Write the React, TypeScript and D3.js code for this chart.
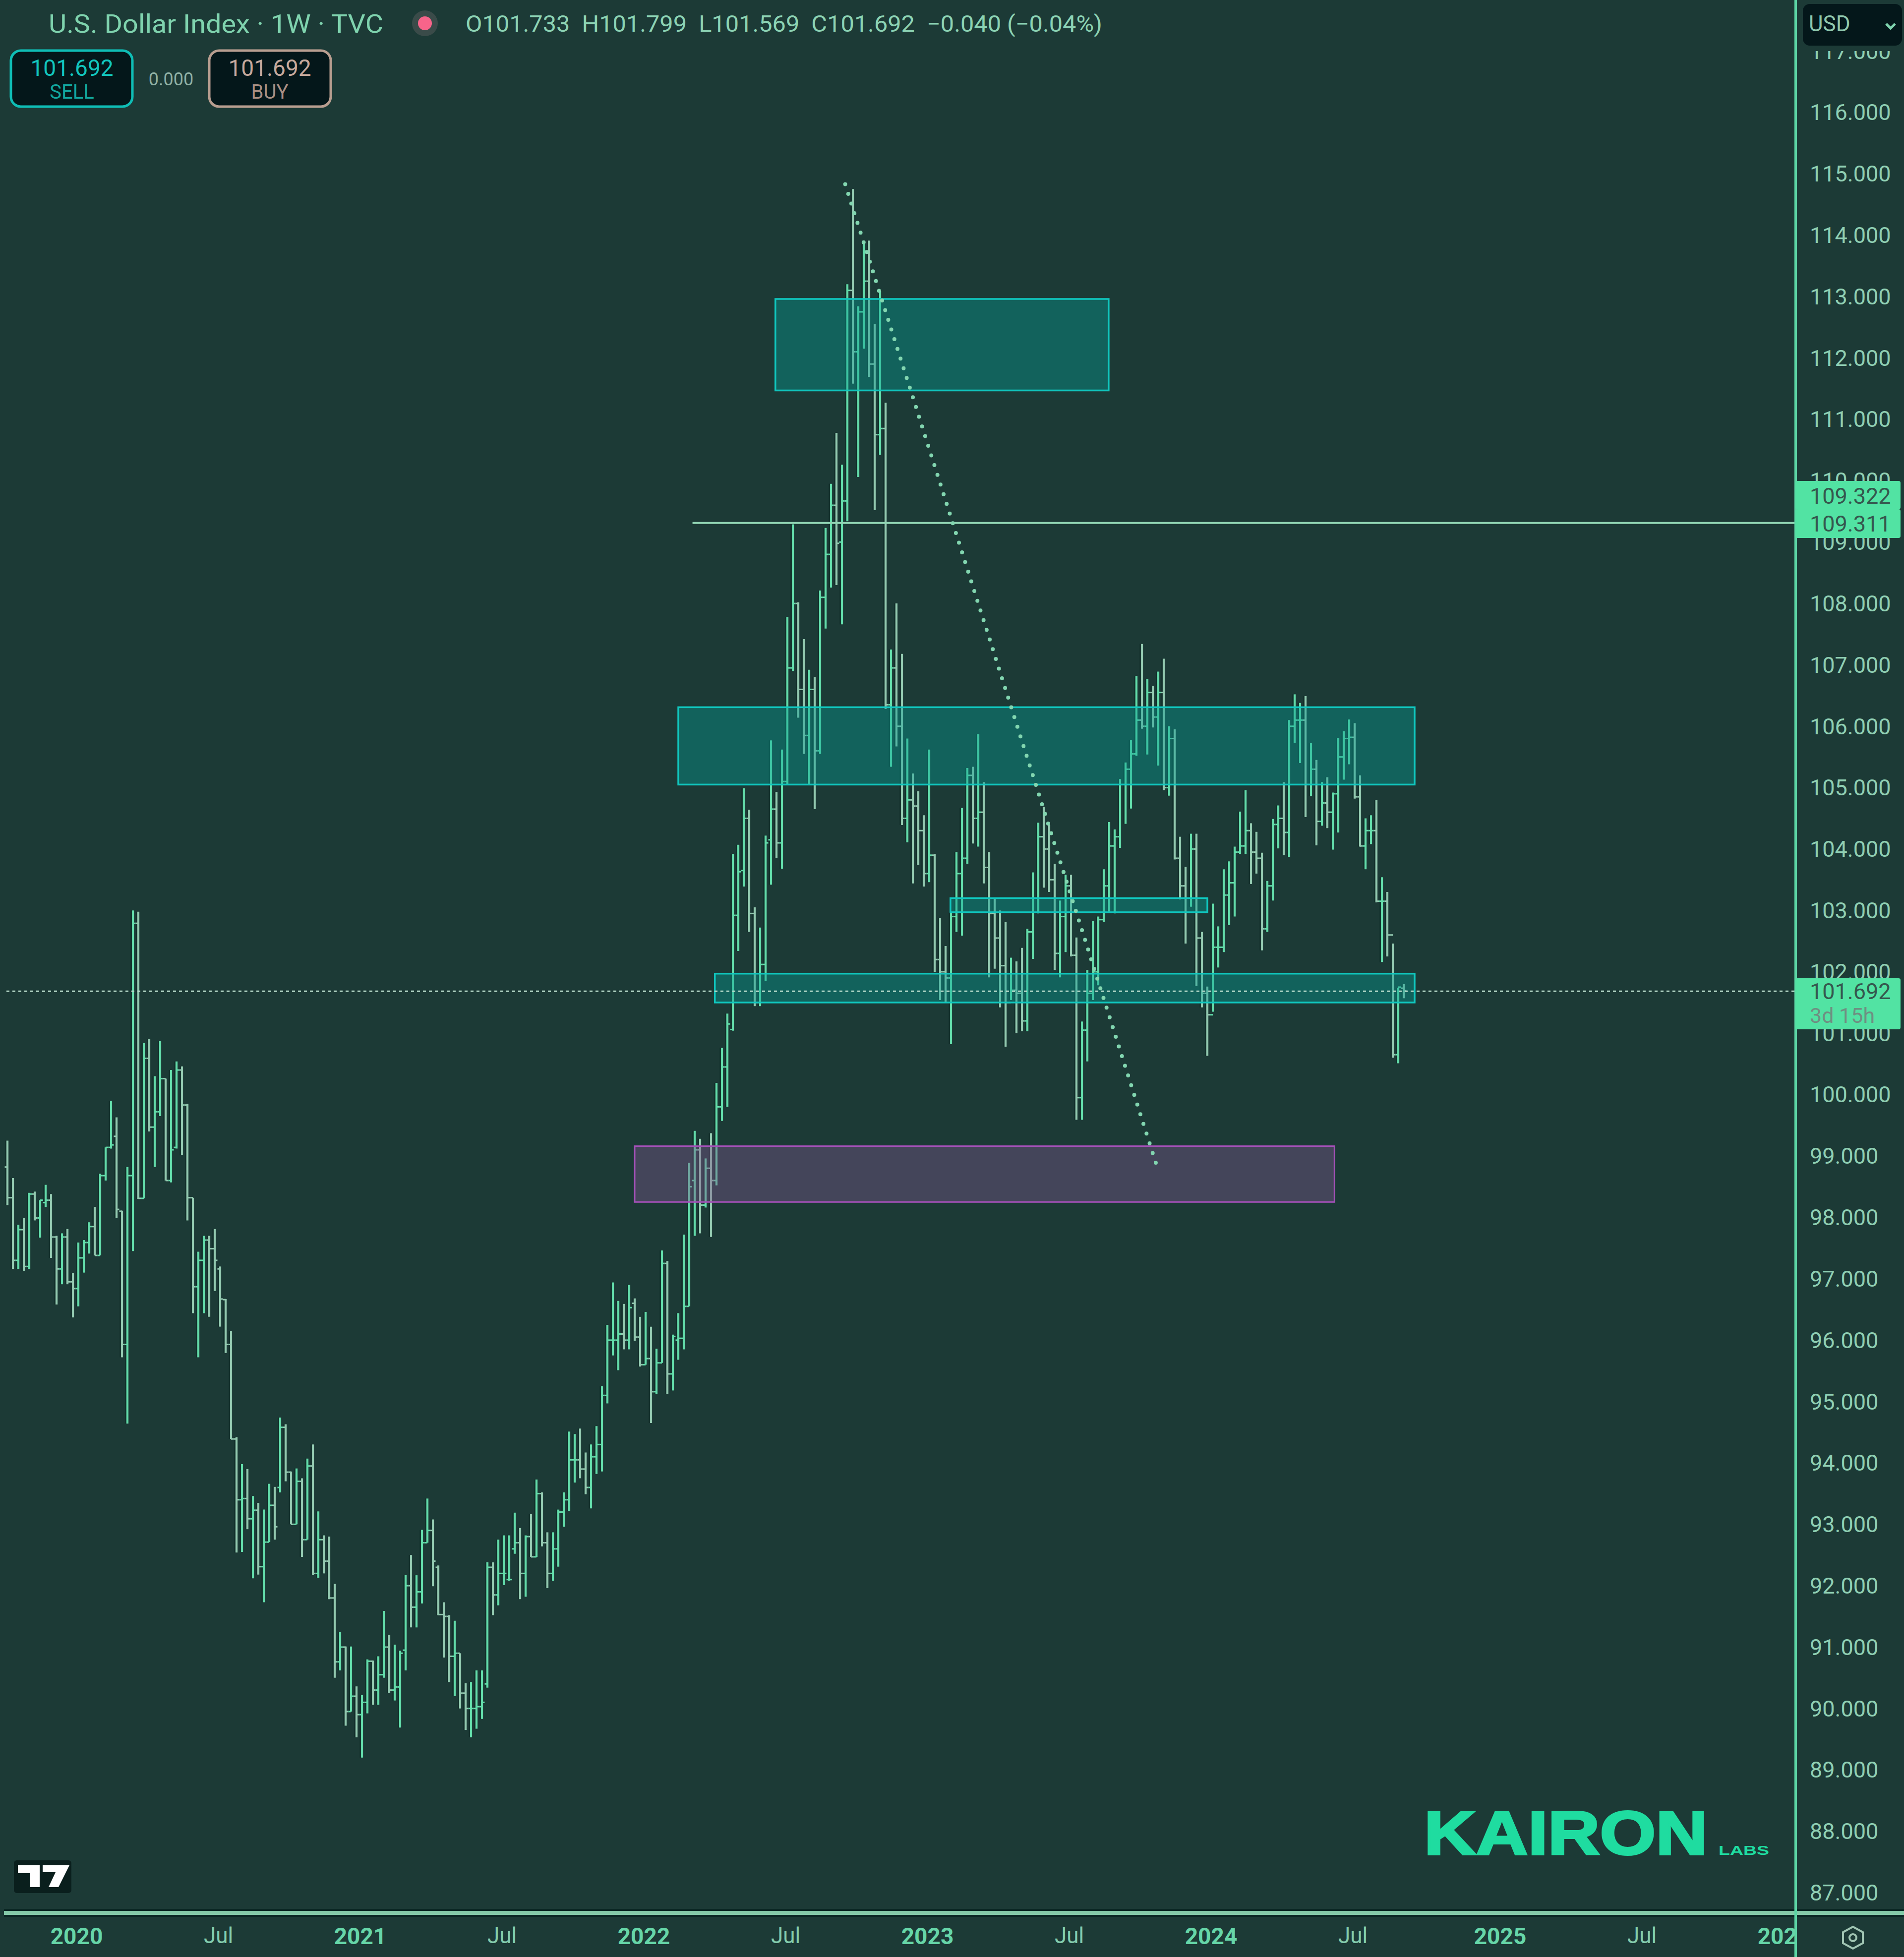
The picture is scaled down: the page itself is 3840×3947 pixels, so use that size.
import React, { useEffect, useRef } from 'react';
import * as d3 from 'd3';

const WIDTH = 3840;
const HEIGHT = 3947;

// weekly bars, first one is the week of 2019-10-07
const firstWeek = Date.UTC(2019, 9, 7);
const WEEK = 7 * 24 * 3600 * 1000;

const opens = [
  98.82,98.32,97.3,97.8,97.2,98.38,97.99,98.24,98.28,97.68,
  97.16,97.68,96.95,96.84,97.34,97.59,97.85,97.38,98.68,99.14,
  99.32,98.1,95.93,98.68,102.79,98.31,100.59,99.47,99.72,100.26,
  98.6,99.14,100.4,99.83,98.32,96.87,97.3,97.63,97.49,97.16,
  96.66,95.93,94.39,93.4,93.42,93.09,93.23,92.31,92.71,93.31,
  93.6,94.58,93.85,93.0,93.7,92.75,93.95,92.2,92.75,92.4,
  91.8,90.76,91.0,89.95,90.2,89.9,90.1,90.77,90.3,90.55,
  91.0,90.3,90.35,90.95,92.0,91.65,91.9,92.7,92.9,92.3,
  91.53,91.5,90.85,90.9,90.25,90.0,90.0,90.03,90.4,92.3,
  91.85,92.2,92.1,92.6,92.7,92.2,92.8,92.47,93.5,92.7,
  92.2,92.6,93.2,93.4,94.05,94.05,93.9,93.6,94.1,94.3,
  95.1,96.0,96.0,96.1,96.0,96.6,96.05,95.6,95.7,95.16,
  95.63,97.25,95.45,96.0,96.03,96.55,98.6,99.1,98.2,98.8,
  98.6,99.8,100.45,101.06,102.92,103.65,104.5,102.95,101.5,102.12,
  104.15,104.65,104.1,105.1,106.95,108.0,106.6,105.85,106.6,105.6,
  108.1,108.8,109.6,109.0,109.67,113.1,112.1,112.75,113.25,111.9,
  110.75,110.85,106.35,106.95,106.0,104.5,104.8,104.7,104.3,103.6,
  103.9,102.2,102.0,101.9,102.9,103.6,103.85,105.2,104.5,104.6,
  103.7,102.95,102.55,102.1,101.5,101.7,101.65,101.2,102.65,103.2,
  104.2,104.0,103.5,102.3,102.9,103.4,102.27,99.95,101.05,101.65,
  102.0,102.85,103.4,104.05,104.2,105.05,105.3,105.55,106.1,106.0,
  106.55,106.15,106.55,105.0,105.8,103.85,103.4,103.2,104.0,102.55,
  101.65,101.3,102.4,102.4,103.25,103.45,103.95,104.05,104.3,103.95,
  103.85,102.7,103.4,104.4,104.5,104.27,106.0,106.1,106.1,105.05,
  105.3,104.45,104.75,104.6,104.9,105.5,105.8,105.82,104.85,104.05,
  104.3,104.3,103.15,103.15,102.6,100.65,101.733,
];

const highs = [
  99.25,98.64,97.88,97.99,98.4,98.42,98.28,98.53,98.38,97.7,
  97.74,97.81,97.09,97.59,97.63,97.92,98.17,98.71,99.14,99.9,
  99.63,98.11,98.82,103.0,102.98,100.84,100.91,100.3,100.87,100.26,
  100.4,100.54,100.46,99.85,98.32,97.44,97.7,97.7,97.81,97.2,
  96.67,96.15,94.42,93.98,93.9,93.46,93.35,93.24,93.66,93.61,
  94.74,94.63,93.86,93.91,93.75,94.07,94.3,93.21,92.82,92.8,
  92.03,91.25,91.01,91.01,90.36,90.22,90.8,90.78,90.85,91.59,
  91.2,91.04,90.94,92.17,92.5,92.17,92.91,93.42,93.08,92.33,
  91.73,91.52,91.43,90.9,90.41,90.43,90.62,90.62,92.38,92.38,
  92.75,92.82,92.82,93.19,92.94,92.82,93.17,93.73,93.52,92.87,
  92.87,93.24,93.52,94.51,94.47,94.56,94.17,94.3,94.6,95.25,
  96.25,96.94,96.64,96.59,96.9,96.68,96.38,96.46,96.22,95.86,
  97.46,97.29,96.09,96.44,97.72,98.89,99.41,99.28,98.96,99.37,
  100.19,100.76,101.32,103.92,104.07,104.99,104.64,103.05,102.72,104.22,
  105.77,104.93,105.62,107.78,109.29,108.02,107.42,106.92,106.8,108.21,
  109.23,109.95,110.78,110.26,113.2,114.75,112.84,113.88,113.91,112.55,
  113.09,111.27,107.25,108.0,107.18,105.8,105.23,104.94,104.55,105.62,
  103.92,102.88,102.42,102.97,103.95,104.67,105.32,105.34,105.87,105.09,
  103.95,103.2,103.0,102.81,102.23,102.17,102.39,102.7,103.62,104.43,
  104.69,104.39,103.76,103.16,103.58,103.58,102.56,101.19,102.03,102.83,
  102.9,103.67,104.44,104.32,105.14,105.41,105.78,106.82,107.34,106.77,
  106.66,106.89,107.1,106.0,105.95,104.2,103.71,104.25,104.25,102.65,
  101.76,103.11,102.74,103.67,103.8,104.04,104.61,104.96,104.42,104.28,
  103.94,103.48,104.49,104.71,105.09,106.1,106.52,106.38,106.49,105.73,
  105.45,105.09,105.17,104.92,105.81,105.92,106.11,106.05,105.2,104.5,
  104.55,104.8,103.54,103.3,102.46,101.74,101.799,
];

const lows = [
  98.2,97.16,97.16,97.13,97.16,97.95,97.67,98.17,97.34,96.58,
  96.91,96.91,96.37,96.55,97.1,97.41,97.38,97.38,98.6,99.12,
  97.99,95.72,94.64,97.45,98.3,98.31,99.4,98.82,99.65,98.6,
  98.57,99.12,99.02,97.95,96.44,95.72,96.44,96.38,96.8,96.22,
  95.79,94.39,92.54,92.55,92.92,92.12,92.18,91.73,92.71,92.75,
  93.52,93.7,93.0,93.0,92.47,92.75,92.17,92.13,92.2,91.78,
  90.5,90.62,89.72,89.95,89.53,89.2,89.92,90.06,90.06,90.5,
  90.25,90.13,89.69,90.62,91.32,91.32,91.71,92.7,91.99,91.52,
  90.83,90.43,90.2,90.0,89.65,89.53,89.67,89.83,90.34,91.52,
  91.68,92.01,92.08,92.52,91.78,91.82,92.47,92.47,92.64,91.96,
  92.08,92.31,92.96,93.22,93.68,93.75,93.49,93.26,93.82,93.86,
  94.97,95.75,95.51,95.85,95.85,95.99,95.57,95.6,94.65,95.12,
  95.63,95.12,95.18,95.68,95.85,96.55,97.7,97.74,98.16,97.68,
  98.52,99.57,99.8,101.04,102.34,103.39,102.65,101.44,101.44,101.85,
  103.42,103.85,103.68,105.06,106.9,106.14,105.55,105.06,104.65,105.55,
  107.59,108.26,108.3,107.66,109.34,111.58,110.06,112.15,111.69,109.52,
  110.42,106.28,105.34,105.67,104.39,104.11,103.44,103.74,103.39,103.46,
  102.0,101.54,101.51,100.82,102.65,102.59,103.76,104.09,104.04,103.44,
  101.91,102.05,101.42,100.78,101.54,101.0,101.03,101.03,102.21,102.95,
  103.37,103.3,102.03,101.91,102.32,102.25,99.59,99.59,100.54,101.54,
  101.78,102.81,102.98,102.95,104.02,104.41,104.66,105.52,105.96,105.54,
  105.98,105.36,104.96,104.87,103.83,103.18,102.46,103.06,101.77,101.42,
  100.63,101.35,102.07,102.32,102.76,102.9,103.92,103.92,103.43,103.6,
  102.35,102.65,103.16,104.01,103.9,103.87,105.73,105.4,104.52,104.86,
  104.06,104.38,104.34,103.99,104.27,105.13,105.38,104.82,104.04,103.67,
  104.08,103.13,102.16,102.25,100.6,100.51,101.569,
];

const closes = [
  98.32,97.3,97.8,97.2,98.38,97.99,98.28,98.28,97.68,97.16,
  97.68,96.95,96.84,97.34,97.59,97.85,97.38,98.68,99.14,99.18,
  98.13,95.93,98.68,102.79,98.31,100.59,99.47,99.72,100.26,98.6,
  99.1,100.4,99.83,98.32,96.87,97.3,97.63,97.49,97.3,96.67,
  95.93,94.39,93.4,93.42,93.09,93.23,92.31,92.71,93.31,92.96,
  94.58,93.85,93.0,93.7,92.75,93.95,92.2,92.75,92.4,91.8,
  90.76,91.0,89.95,90.2,89.9,90.1,90.77,90.3,90.55,91.0,
  90.3,90.35,90.9,92.0,91.65,91.9,92.7,92.9,92.4,91.53,
  91.5,90.85,90.9,90.25,90.0,90.0,90.03,90.1,92.3,91.85,
  92.2,92.2,92.1,92.7,92.2,92.8,92.47,93.5,92.7,92.2,
  92.6,93.2,93.4,94.05,94.05,93.9,93.6,94.1,94.3,95.1,
  96.0,96.0,96.1,96.0,96.53,96.05,95.6,95.7,95.16,95.63,
  97.25,95.45,96.06,96.03,96.55,98.5,99.1,98.2,98.8,98.6,
  99.8,100.45,101.15,102.92,103.63,104.5,102.95,101.5,102.12,104.1,
  104.65,104.1,105.1,106.95,108.0,106.6,105.85,106.6,105.6,108.1,
  108.8,109.6,108.98,109.67,113.1,112.1,112.75,113.25,111.9,110.75,
  110.85,106.35,106.95,106.0,104.5,104.8,104.7,104.3,103.6,103.9,
  102.2,102.0,101.9,102.9,103.6,103.85,105.2,104.5,104.6,103.7,
  102.95,102.55,102.1,101.5,101.7,101.65,101.2,102.65,103.2,104.2,
  104.0,103.5,102.3,102.9,103.4,102.27,99.95,101.05,101.65,102.0,
  102.85,103.4,104.05,104.2,105.05,105.3,105.55,106.1,106.0,106.55,
  106.15,106.55,105.0,105.8,103.85,103.4,103.2,104.0,102.55,101.65,
  101.3,102.4,102.4,103.25,103.45,103.95,104.05,104.3,103.95,103.85,
  102.7,103.4,104.4,104.5,104.27,106.0,106.1,106.1,105.05,105.3,
  104.45,104.75,104.6,104.9,105.5,105.8,105.82,104.85,104.05,104.3,
  104.3,103.15,103.15,102.6,100.65,101.75,101.692,
];

const priceTicks = d3.range(87, 118);
const yearTicks = ['2020-01-06', '2021-01-04', '2022-01-03', '2023-01-02', '2024-01-01', '2025-01-06', '2026-01-05'];
const julyTicks = ['2020-07-06', '2021-07-05', '2022-07-04', '2023-07-03', '2024-07-01', '2025-07-07'];

// drawn boxes: first week, last week, top price, bottom price
const tealZones = [
  [140.8, 201.9, 112.96, 111.47],
  [123, 258, 106.31, 105.05],
  [172.9, 220, 103.2, 102.97],
  [129.7, 258, 101.97, 101.5],
];
const purpleZone = [115, 243.3, 99.16, 98.25];

const levelStartWeek = 125.6;
const levelPrice = 109.311;
const lastPrice = 101.692;
const trendFrom = [153.6, 114.83];
const trendTo = [210.7, 98.87];

const BG = '#1c3a36';
const UP = '#63dcaa';
const DOWN = '#93c9b0';
const FONT = 'Roboto, sans-serif';

const App: React.FC = () => {
  const svgRef = useRef<SVGSVGElement>(null);

  useEffect(() => {
    if (!svgRef.current) return;
    const svg = d3.select(svgRef.current);
    svg.selectAll('*').remove();

    const x = d3.scaleUtc()
      .domain([new Date(firstWeek), new Date(firstWeek + 257 * WEEK)])
      .range([15, 15 + 257 * 11]);
    const y = d3.scaleLinear().domain([116, 87]).range([226.6, 3817.2]);
    const xw = (w: number) => x(new Date(firstWeek + w * WEEK));

    svg.append('rect').attr('width', WIDTH).attr('height', HEIGHT).attr('fill', BG);

    const defs = svg.append('defs');
    defs.append('clipPath').attr('id', 'time-clip')
      .append('rect').attr('x', 0).attr('y', 3866).attr('width', 3620).attr('height', 81);

    // dark halo under the bars, the screenshot has it from sharpening
    svg.append('g').selectAll('line')
      .data(d3.range(opens.length))
      .enter().append('line')
      .attr('x1', (i: number) => xw(i) - 1.5).attr('x2', (i: number) => xw(i) - 1.5)
      .attr('y1', (i: number) => y(highs[i])).attr('y2', (i: number) => y(lows[i]))
      .attr('stroke', '#0f2b27').attr('stroke-width', 6);

    // OHLC bars
    const bars = svg.append('g').selectAll('g')
      .data(d3.range(opens.length))
      .enter().append('g')
      .attr('stroke', (i: number) => (closes[i] >= opens[i] ? UP : DOWN));
    bars.append('line')
      .attr('x1', (i: number) => xw(i)).attr('x2', (i: number) => xw(i))
      .attr('y1', (i: number) => y(highs[i])).attr('y2', (i: number) => y(lows[i]))
      .attr('stroke-width', 4.2);
    bars.append('line')
      .attr('x1', (i: number) => xw(i) - 5.5).attr('x2', (i: number) => xw(i))
      .attr('y1', (i: number) => y(opens[i])).attr('y2', (i: number) => y(opens[i]))
      .attr('stroke-width', 3);
    bars.append('line')
      .attr('x1', (i: number) => xw(i)).attr('x2', (i: number) => xw(i) + 5.5)
      .attr('y1', (i: number) => y(closes[i])).attr('y2', (i: number) => y(closes[i]))
      .attr('stroke-width', 3);

    // zones sit on top of the bars, translucent
    svg.append('g').selectAll('rect')
      .data(tealZones)
      .enter().append('rect')
      .attr('x', (d: number[]) => xw(d[0]))
      .attr('y', (d: number[]) => y(d[2]))
      .attr('width', (d: number[]) => xw(d[1]) - xw(d[0]))
      .attr('height', (d: number[]) => y(d[3]) - y(d[2]))
      .attr('fill', 'rgba(4,160,150,0.4)')
      .attr('stroke', '#10c6be')
      .attr('stroke-width', 3.5);
    svg.append('rect')
      .attr('x', xw(purpleZone[0]))
      .attr('y', y(purpleZone[2]))
      .attr('width', xw(purpleZone[1]) - xw(purpleZone[0]))
      .attr('height', y(purpleZone[3]) - y(purpleZone[2]))
      .attr('fill', 'rgba(130,88,144,0.4)')
      .attr('stroke', '#a250b6')
      .attr('stroke-width', 3);

    // level, last price and trend lines
    svg.append('line')
      .attr('x1', xw(levelStartWeek)).attr('x2', 3623)
      .attr('y1', y(levelPrice)).attr('y2', y(levelPrice))
      .attr('stroke', '#8fd3b2').attr('stroke-width', 4);
    svg.append('line')
      .attr('x1', 13).attr('x2', 3623)
      .attr('y1', y(lastPrice) + 1).attr('y2', y(lastPrice) + 1)
      .attr('stroke', '#b9dccb').attr('stroke-width', 2.8).attr('stroke-dasharray', '6 6');
    svg.append('line')
      .attr('x1', xw(trendFrom[0])).attr('y1', y(trendFrom[1]))
      .attr('x2', xw(trendTo[0])).attr('y2', y(trendTo[1]) + 3)
      .attr('stroke', '#82d6b0').attr('stroke-width', 8)
      .attr('stroke-linecap', 'round').attr('stroke-dasharray', '0 20.5');

    // frame
    svg.append('rect').attr('x', 8).attr('y', 3850).attr('width', WIDTH - 8).attr('height', 16).attr('fill', '#0b2724');
    svg.append('rect').attr('x', 8).attr('y', 3854).attr('width', WIDTH - 8).attr('height', 8).attr('fill', '#84c9a8');
    svg.append('rect').attr('x', 3619).attr('y', 0).attr('width', 5).attr('height', HEIGHT).attr('fill', '#5bd3a3');

    // price axis
    const priceAxis = svg.append('g')
      .attr('transform', 'translate(3625,0)')
      .call(d3.axisRight(y).tickValues(priceTicks).tickFormat(d3.format('.3f')).tickSize(0).tickPadding(25));
    priceAxis.select('.domain').remove();
    priceAxis.selectAll('text')
      .attr('font-family', FONT).attr('font-size', 45).attr('fill', '#8fcfb3').attr('dy', '0.34em');

    // time axis
    const timeG = svg.append('g').attr('clip-path', 'url(#time-clip)');
    const yearAxis = timeG.append('g')
      .attr('transform', 'translate(-4,3888)')
      .call(d3.axisBottom(x).tickValues(yearTicks.map((d) => new Date(d))).tickFormat(d3.utcFormat('%Y')).tickSize(0).tickPadding(0));
    yearAxis.select('.domain').remove();
    yearAxis.selectAll('text')
      .attr('font-family', FONT).attr('font-size', 46).attr('font-weight', 700).attr('fill', '#66d6a8').attr('dy', '0.71em');
    const julyAxis = timeG.append('g')
      .attr('transform', 'translate(-4,3888)')
      .call(d3.axisBottom(x).tickValues(julyTicks.map((d) => new Date(d))).tickFormat(d3.utcFormat('%b')).tickSize(0).tickPadding(0));
    julyAxis.select('.domain').remove();
    julyAxis.selectAll('text')
      .attr('font-family', FONT).attr('font-size', 44).attr('fill', '#84cdae').attr('dy', '0.71em');

    const label = (t: string, lx: number, ly: number, size: number, fill: string, anchor = 'start', weight = 400) =>
      svg.append('text')
        .attr('x', lx).attr('y', ly)
        .attr('font-family', FONT).attr('font-size', size).attr('font-weight', weight)
        .attr('fill', fill).attr('text-anchor', anchor)
        .attr('dominant-baseline', 'central')
        .text(t);

    // price tags on the axis
    const tag = (top: number, h: number) =>
      svg.append('rect').attr('x', 3621).attr('y', top).attr('width', 212).attr('height', h).attr('rx', 4).attr('fill', '#52e3a3');
    tag(970, 57);
    tag(1027, 58);
    tag(1973, 103);
    label('109.322', 3650, 1000, 45, '#35574e');
    label('109.311', 3650, y(levelPrice) + 2, 45, '#35574e');
    label('101.692', 3650, y(lastPrice) + 1, 45, '#35574e');
    label('3d 15h', 3650, 2048, 43, '#6f8f82');

    // header
    label('U.S. Dollar Index · 1W · TVC', 98, 48, 52, '#7fd3ae')
      .attr('textLength', 675).attr('lengthAdjust', 'spacingAndGlyphs');
    svg.append('circle').attr('cx', 857).attr('cy', 47).attr('r', 26).attr('fill', '#3a4b49');
    svg.append('circle').attr('cx', 857).attr('cy', 47).attr('r', 14).attr('fill', '#f7648a');
    label('O101.733  H101.799  L101.569  C101.692  −0.040 (−0.04%)', 939, 48, 46, '#8cd3b4')
      .style('white-space', 'pre')
      .attr('textLength', 1284).attr('lengthAdjust', 'spacingAndGlyphs');

    // sell / buy buttons
    svg.append('rect').attr('x', 22).attr('y', 102).attr('width', 245).attr('height', 113).attr('rx', 20)
      .attr('fill', '#04171a').attr('stroke', '#0fbdb5').attr('stroke-width', 5);
    label('101.692', 145, 137, 46, '#12c6bd', 'middle');
    label('SELL', 145, 185, 40, '#12a69e', 'middle');
    label('0.000', 345, 160, 36, '#8fb0a4', 'middle');
    svg.append('rect').attr('x', 422).attr('y', 102).attr('width', 245).attr('height', 113).attr('rx', 20)
      .attr('fill', '#04171a').attr('stroke', '#b89e90').attr('stroke-width', 5);
    label('101.692', 544, 137, 46, '#c6a99c', 'middle');
    label('BUY', 544, 185, 40, '#a98f83', 'middle');

    // currency box, the strip under it cuts the top of the 117 label
    svg.append('rect').attr('x', 3626).attr('y', 0).attr('width', 214).attr('height', 103).attr('fill', BG);
    svg.append('rect').attr('x', 3636).attr('y', 8).attr('width', 200).attr('height', 84).attr('rx', 14).attr('fill', '#04171a');
    label('USD', 3648, 48, 44, '#8fc8ae');
    svg.append('path').attr('d', 'M3804,48 L3813,57 L3822,48').attr('fill', 'none').attr('stroke', '#7fd3ae').attr('stroke-width', 5);

    // settings icon
    svg.append('path').attr('d', 'M3737,3886 L3757,3897 L3757,3919 L3737,3930 L3717,3919 L3717,3897 Z')
      .attr('fill', 'none').attr('stroke', '#9fc4b2').attr('stroke-width', 4);
    svg.append('circle').attr('cx', 3737).attr('cy', 3908).attr('r', 7).attr('fill', 'none').attr('stroke', '#9fc4b2').attr('stroke-width', 4);

    // brand marks
    svg.append('rect').attr('x', 28).attr('y', 3752).attr('width', 116).attr('height', 66).attr('rx', 6).attr('fill', '#0a1f1d');
    svg.append('path')
      .attr('d', 'M36,3762 L80,3762 L80,3806 L60,3806 L60,3778 L36,3778 Z M86,3762 L140,3762 L118,3806 L98,3806 L112,3776 L86,3776 Z')
      .attr('fill', '#ffffff');
    svg.append('text')
      .attr('x', 2872).attr('y', 3740)
      .attr('font-family', '"Liberation Sans", sans-serif').attr('font-weight', 700).attr('font-size', 124)
      .attr('fill', '#1fdca0').attr('stroke', '#1fdca0').attr('stroke-width', 4)
      .attr('textLength', 572).attr('lengthAdjust', 'spacingAndGlyphs')
      .text('KAIRON');
    svg.append('text')
      .attr('x', 3466).attr('y', 3741)
      .attr('font-family', '"Liberation Sans", sans-serif').attr('font-weight', 700).attr('font-size', 26)
      .attr('fill', '#1fdca0')
      .attr('textLength', 102).attr('lengthAdjust', 'spacingAndGlyphs')
      .text('LABS');
  }, []);

  return (
    <svg
      ref={svgRef}
      width={WIDTH}
      height={HEIGHT}
      style={{ position: 'absolute', left: 0, top: 0, display: 'block' }}
    />
  );
};

export default App;
